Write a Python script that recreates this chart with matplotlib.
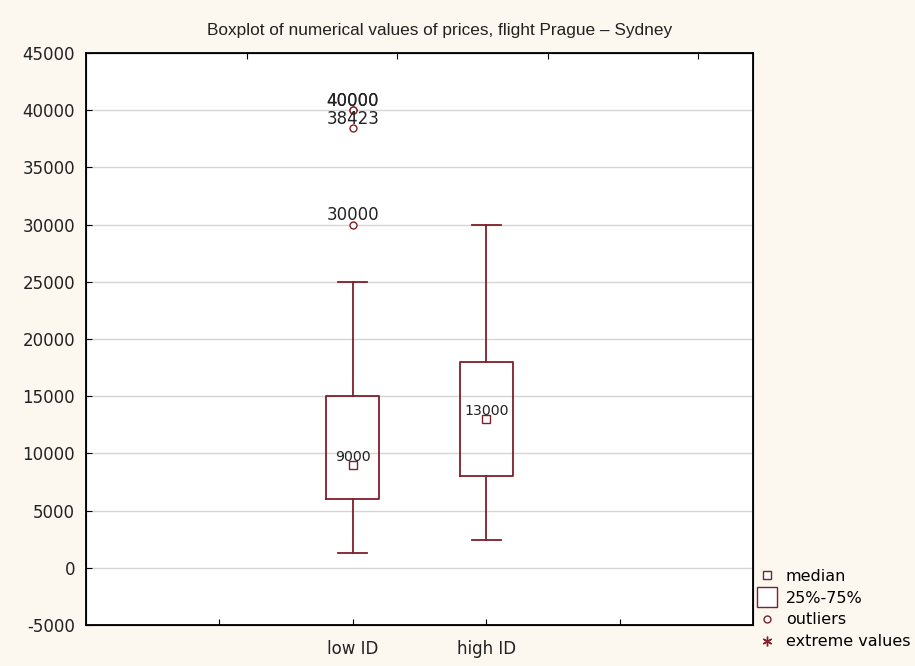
import matplotlib
matplotlib.use("Agg")
import matplotlib.pyplot as plt
from matplotlib.lines import Line2D

plt.rcParams['font.family'] = ['DejaVu Sans']
plt.rcParams['axes.unicode_minus'] = False

# data
groups = ['low ID', 'high ID']
positions = [2, 3]
q1 = [6000, 8000]
q3 = [15000, 18000]
medians = [9000, 13000]
whisk_lo = [1300, 2400]
whisk_hi = [25000, 30000]
outliers = [[30000, 38423, 40000, 40000], []]

red = '#7F1F2A'
bg = '#FCF7EF'
txt = '#222222'

fig = plt.figure(figsize=(9.15, 6.66), dpi=100, facecolor=bg)
ax = fig.add_axes([86 / 915, 1 - 625 / 666, (753 - 86) / 915, (625 - 53) / 666])
ax.set_facecolor('white')

stats = []
for i, g in enumerate(groups):
	stats.append(dict(label=g, q1=q1[i], q3=q3[i], med=medians[i],
					  whislo=whisk_lo[i], whishi=whisk_hi[i], fliers=outliers[i]))

ax.bxp(stats, positions=positions, widths=0.4, showfliers=True,
	   boxprops=dict(color=red, linewidth=1.3),
	   whiskerprops=dict(color=red, linewidth=1.3),
	   capprops=dict(color=red, linewidth=1.3),
	   medianprops=dict(linewidth=0),
	   flierprops=dict(marker='o', markerfacecolor='white', markeredgecolor=red,
					   markersize=5, markeredgewidth=1.0),
	   capwidths=0.22, zorder=3)

ax.plot(positions, medians, linestyle='none', marker='s', markersize=6,
		markerfacecolor='white', markeredgecolor=red, markeredgewidth=1.0, zorder=4)

for x, m in zip(positions, medians):
	ax.annotate(str(m), (x, m), xytext=(0, 3), textcoords='offset points',
				ha='center', va='baseline', fontsize=10.2, color=txt, zorder=5)
for x, fl in zip(positions, outliers):
	for v in fl:
		ax.annotate(str(v), (x, v), xytext=(0, 3), textcoords='offset points',
					ha='center', va='baseline', fontsize=12, color=txt, zorder=5)

ax.set_xlim(0, 5)
ax.set_ylim(-5000, 45000)
ax.set_yticks(range(-5000, 45001, 5000))
ax.set_xticks([1, 2, 3, 4])
ax.set_xticklabels(['', groups[0], groups[1], ''])
ax.tick_params(direction='in', length=4, labelsize=12, colors='black',
			   labelcolor=txt)
ax.tick_params(axis='y', pad=8)
ax.tick_params(axis='x', pad=11)
ax.yaxis.grid(True, color='#D5D5D5', linewidth=1)
ax.set_axisbelow(True)
for s in ax.spines.values():
	s.set_linewidth(1.3)

# top axis has its own inward ticks
top = ax.twiny()
top.set_xlim(0, 1)
top.set_xticks([0.241, 0.466, 0.693, 0.918])
top.set_xticklabels([])
top.tick_params(direction='in', length=4)

fig.text(440 / 915, 1 - 31 / 666,
		 'Boxplot of numerical values of prices, flight Prague \u2013 Sydney',
		 ha='center', va='center', fontsize=12.4, color=txt, family='Liberation Sans')

handles = [
	Line2D([], [], linestyle='none', marker='s', markersize=6, markerfacecolor='white',
		   markeredgecolor=red, label='median'),
	Line2D([], [], linestyle='none', marker='s', markersize=15, markerfacecolor='white',
		   markeredgecolor=red, label='25%-75%'),
	Line2D([], [], linestyle='none', marker='o', markersize=5, markerfacecolor='white',
		   markeredgecolor=red, label='outliers'),
	Line2D([], [], linestyle='none', marker=(6, 2, 0), markersize=7,
		   markeredgecolor=red, label='extreme values'),
]
fig.legend(handles=handles, loc='upper left', bbox_to_anchor=(757 / 915, 1 - 569 / 666),
		   frameon=False, fontsize=11.5, handlelength=1.2, handletextpad=0.6,
		   labelspacing=0.42, borderpad=0, borderaxespad=0)

fig.savefig('out.png', dpi=100, facecolor=bg)
